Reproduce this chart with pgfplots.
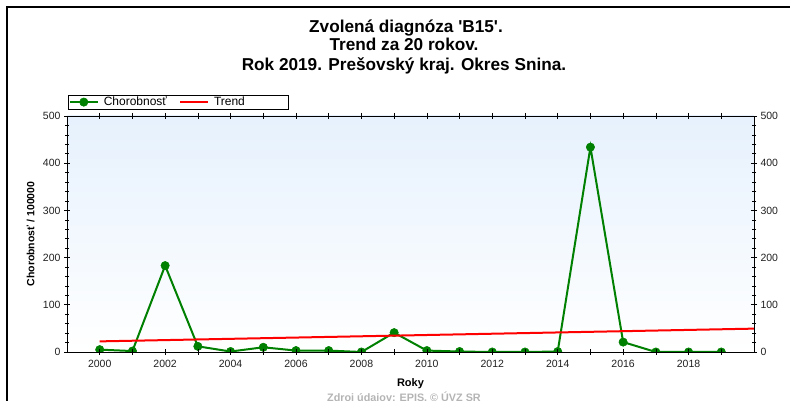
\documentclass[border=0pt]{standalone}
\usepackage{pgfplots}
\pgfplotsset{compat=1.18}
\usepackage{fontspec}
\setmainfont{Liberation Sans}
\newfontfamily\serifbold{Liberation Serif}
\definecolor{grn}{HTML}{008000}
\definecolor{bgtop}{HTML}{E6F1FD}
\definecolor{srcgray}{HTML}{B4B4B4}
\definecolor{ticktxt}{HTML}{202020}

\pgfplotstableread{
year val
2000 5
2001 2
2002 183
2003 12
2004 1
2005 10
2006 3
2007 3
2008 0
2009 41
2010 3
2011 1
2012 0
2013 0
2014 1
2015 434
2016 21
2017 0
2018 0
2019 0
}\chorob

\pgfplotstableread{
year val
2000 22.5
2020 49.5
}\trend

\pgfplotsset{
  commonax/.style={
    at={(axpos)}, anchor=south west,
    scale only axis, width=687pt, height=236pt,
    xmin=1999, xmax=2020, ymin=0, ymax=500,
    ytick={0,100,...,500}, minor ytick={20,40,...,480},
    tick align=center,
    major tick length=6pt, minor tick length=4pt,
    tick style={black, line width=0.6pt},
    axis line style={black, line width=0.8pt},
    /pgf/number format/assume math mode=true,
    ticklabel style={font=\fontsize{10.5}{12}\selectfont, text=ticktxt},
    y tick label style={/pgf/number format/1000 sep={}},
  }
}

\begin{document}
\begin{tikzpicture}[x=1pt,y=1pt]
\useasboundingbox (0,0) rectangle (790,401);
\clip (0,0) rectangle (790,401);
\coordinate (axpos) at (67,49);

% cut-off heading above the frame
\node[anchor=base west, inner sep=0pt, font=\serifbold\bfseries\fontsize{30.5}{31}\selectfont] at (9,403) {Graf č. III.2.2 – B 15:};
\draw[line width=1.2pt] (7,394) rectangle (820,-20);

% title
\begin{scope}[every node/.style={anchor=base, inner sep=0pt, font=\bfseries\fontsize{17.2}{18}\selectfont}]
\node at (406,368.3) {Zvolená diagnóza \textquotesingle B15\textquotesingle.};
\node at (404,350) {Trend za 20 rokov.};
\node at (404,330.5) {Rok 2019. Prešovský kraj. Okres Snina.};
\end{scope}

\begin{axis}[commonax,
  axis background/.style={shade, top color=bgtop, bottom color=white},
  axis on top, clip marker paths=true,
  xtick={2000,2001,...,2019},
  xticklabels={2000,,2002,,2004,,2006,,2008,,2010,,2012,,2014,,2016,,2018,},
  x tick label style={yshift=-1.5pt},
  ylabel={Chorobnosť / 100000},
  ylabel style={font=\bfseries\fontsize{10.5}{12}\selectfont, yshift=1.5pt},
  xlabel={Roky},
  xlabel style={font=\bfseries\fontsize{11}{12}\selectfont, yshift=-4pt},
  legend style={at={(0,1)}, anchor=south west, xshift=1pt, yshift=6.5pt,
    draw=black, line width=0.6pt, inner sep=0.5pt, legend columns=2,
    font=\fontsize{12}{13}\selectfont,
    nodes={inner xsep=5pt, inner ysep=1.5pt},
    /tikz/every odd column/.append style={xshift=2pt},
    /tikz/every even column/.append style={column sep=7pt}},
  legend image code/.code={%
    \draw[#1, mark repeat=2, mark phase=2] plot coordinates {(2pt,0pt) (16pt,0pt) (30pt,0pt)};},
]
\addplot[grn, line width=2pt, mark=*, mark size=4.2pt, mark options={fill=grn, draw=grn, line width=0.5pt}] table[x=year, y=val] {\chorob};
\addlegendentry{Chorobnosť}
\addplot[red, line width=2pt] table[x=year, y=val] {\trend};
\addlegendentry[text width=69pt]{Trend}
\end{axis}

\begin{axis}[commonax,
  axis x line=none, axis y line*=right,
  xtick=\empty,
]
\addplot[draw=none] coordinates {(2000,0)};
\end{axis}

\node[anchor=base, inner sep=0pt, text=srcgray, font=\bfseries\fontsize{10.8}{11}\selectfont] at (404,-0.5) {Zdroj údajov: EPIS. © ÚVZ SR};
\end{tikzpicture}
\end{document}
